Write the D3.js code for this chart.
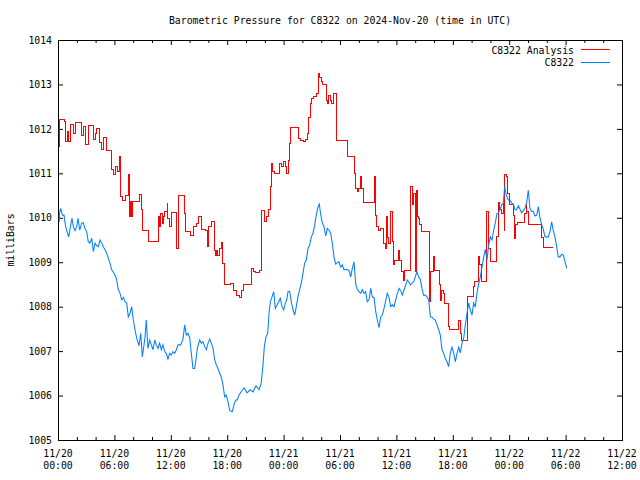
<!DOCTYPE html>
<html><head><meta charset="utf-8">
<script src="https://cdn.jsdelivr.net/npm/d3@7"></script>
<style>
body{margin:0;background:#fff}
svg text{font-family:"DejaVu Sans Mono","Liberation Mono",monospace;font-size:9.8px;fill:#000}
</style>
</head><body>
<svg id="chart" width="640" height="480"></svg>
<script>
// ---- data (hours after 2024-11-20 00:00 UTC, pressure in mb) ----
const analysisHours = [0.11,0.21,0.64,0.85,0.99,1.10,1.28,1.63,1.84,2.52,
2.69,2.95,3.22,3.76,3.94,4.12,4.39,4.65,4.82,5.18,
5.67,5.88,6.14,6.38,6.52,6.70,6.86,7.13,7.48,7.59,
7.71,7.82,7.93,8.72,8.90,9.04,9.61,10.67,10.78,10.93,
11.10,11.20,11.28,11.63,11.70,11.91,12.05,12.63,12.80,13.48,
13.59,14.12,14.39,14.76,14.93,15.24,15.71,15.88,15.99,16.31,
16.60,16.78,16.88,17.02,17.13,17.37,17.52,17.66,18.30,18.69,
19.04,19.29,19.47,19.76,20.56,20.82,21.06,21.41,21.70,21.95,
22.16,22.41,22.59,22.69,22.77,23.05,23.59,23.76,24.01,24.18,
24.26,24.47,24.61,24.71,25.61,25.78,26.14,26.28,26.49,26.67,
26.81,26.99,27.20,27.55,27.73,27.87,27.98,28.16,28.59,28.67,
28.76,28.94,29.12,29.29,29.65,30.78,31.49,31.60,31.84,31.95,
32.13,32.31,32.48,33.62,33.76,33.90,34.07,34.26,34.61,34.79,
34.97,35.07,35.21,35.39,35.61,35.67,35.85,36.20,36.38,36.56,
36.73,36.91,37.55,37.69,37.84,37.98,38.16,38.24,38.33,38.51,
38.69,39.50,39.65,39.93,40.03,40.56,40.69,40.82,40.96,41.17,
41.52,41.63,42.59,42.77,42.95,43.59,43.76,44.18,44.36,44.71,
44.89,45.07,45.61,45.78,45.96,46.67,46.84,47.02,47.20,47.37,
47.45,47.55,47.73,47.80,47.87,48.01,48.44,48.54,48.65,48.90,
49.61,49.79,49.89,50.03,51.46,51.63,52.69];
const analysisValues = [1011.60,1012.22,1012.16,1011.71,1011.94,1011.71,1012.11,1011.90,1012.14,1011.86,
1012.05,1011.66,1012.07,1011.77,1011.90,1012.01,1011.69,1011.54,1011.81,1011.52,
1011.08,1010.98,1011.15,1011.05,1011.38,1010.47,1010.40,1010.51,1010.98,1010.02,
1010.36,1010.02,1010.36,1010.53,1010.18,1009.72,1009.46,1010.02,1009.80,1010.10,
1009.88,1010.02,1010.14,1010.33,1009.99,1009.80,1010.11,1009.31,1010.50,1010.10,
1009.69,1009.61,1009.80,1009.88,1010.02,1009.74,1009.72,1009.35,1009.80,1009.91,
1009.27,1009.16,1009.27,1009.16,1009.31,1009.45,1008.98,1008.49,1008.52,1008.37,
1008.26,1008.21,1008.37,1008.49,1008.86,1008.79,1008.76,1008.82,1010.16,1009.91,
1010.02,1010.18,1010.70,1011.23,1011.05,1011.00,1011.23,1011.15,1011.26,1011.15,
1011.00,1011.30,1011.67,1012.04,1011.79,1011.75,1011.71,1011.77,1011.90,1012.25,
1012.58,1012.68,1012.72,1012.80,1013.25,1013.15,1013.06,1012.99,1012.65,1012.58,
1012.76,1012.65,1012.58,1012.80,1011.75,1011.38,1011.00,1010.66,1010.59,1010.66,
1010.93,1010.66,1010.34,1010.94,1010.06,1009.80,1009.72,1009.76,1009.43,1009.31,
1010.02,1009.55,1009.43,1010.14,1009.46,1008.94,1009.05,1009.27,1009.05,1008.79,
1008.60,1008.81,1010.70,1010.29,1010.55,1008.80,1010.62,1010.02,1009.99,1009.84,
1009.70,1008.12,1008.80,1009.12,1008.82,1008.49,1008.15,1008.37,1008.30,1008.07,
1007.55,1007.49,1007.70,1007.40,1007.23,1008.22,1008.24,1008.45,1008.56,1009.12,
1008.94,1008.56,1010.14,1009.31,1009.01,1009.57,1010.34,1010.18,1010.10,1010.33,
1009.72,1010.98,1010.93,1010.81,1010.55,1010.29,1010.06,1009.54,1009.84,1009.90,
1010.10,1010.29,1010.14,1009.84,1009.55,1009.33,1009.33];

const stationHours = [0.14,0.16,0.29,0.46,0.64,0.78,0.96,1.14,1.35,1.49,
1.63,1.81,1.99,2.13,2.31,2.52,2.69,2.87,3.05,3.22,
3.40,3.59,3.76,3.94,4.12,4.29,4.47,4.65,4.82,5.00,
5.18,5.35,5.53,5.71,5.96,6.20,6.41,6.60,6.78,6.95,
7.13,7.31,7.48,7.66,7.84,8.01,8.19,8.37,8.62,8.80,
8.97,9.15,9.26,9.39,9.57,9.76,9.93,10.11,10.29,10.46,
10.64,10.82,10.99,11.17,11.35,11.52,11.70,11.88,12.05,12.23,
12.41,12.59,12.77,13.05,13.30,13.48,13.65,13.83,14.01,14.18,
14.36,14.54,14.65,14.82,15.07,15.24,15.43,15.61,15.78,15.96,
16.14,16.31,16.49,16.67,16.84,17.02,17.20,17.37,17.55,17.73,
17.90,18.09,18.27,18.54,18.72,18.90,19.07,19.26,19.47,19.79,
20.11,20.43,20.74,21.06,21.38,21.60,21.81,21.95,22.13,22.31,
22.45,22.59,22.77,22.95,23.12,23.30,23.48,23.65,23.83,24.01,
24.18,24.33,24.47,24.65,24.82,25.00,25.18,25.35,25.53,25.71,
25.88,26.06,26.24,26.41,26.60,26.78,26.95,27.13,27.31,27.48,
27.66,27.80,27.90,28.12,28.30,28.48,28.65,28.83,29.01,29.18,
29.36,29.54,29.71,29.89,30.07,30.24,30.43,30.61,30.78,30.96,
31.14,31.31,31.49,31.67,31.84,32.02,32.20,32.37,32.55,32.73,
32.90,33.09,33.27,33.44,33.62,33.80,33.97,34.15,34.33,34.50,
34.68,34.86,35.03,35.21,35.39,35.56,35.74,35.93,36.10,36.28,
36.46,36.63,36.81,36.99,37.16,37.31,37.48,37.66,37.84,38.01,
38.19,38.37,38.54,38.72,38.90,39.07,39.26,39.44,39.61,39.79,
39.97,40.14,40.32,40.50,40.67,40.85,41.03,41.20,41.38,41.56,
41.73,41.91,42.10,42.27,42.45,42.63,42.80,42.98,43.16,43.33,
43.51,43.69,43.86,44.04,44.22,44.39,44.57,44.76,44.93,45.11,
45.29,45.46,45.64,45.82,45.99,46.17,46.35,46.52,46.70,46.84,
47.02,47.20,47.37,47.52,47.69,47.90,48.09,48.27,48.44,48.62,
48.80,48.97,49.15,49.33,49.50,49.68,49.86,50.03,50.21,50.39,
50.56,50.74,50.93,51.10,51.28,51.46,51.63,51.81,51.99,52.16,
52.34,52.52,52.69,52.87,53.05,53.22,53.40,53.59,53.76,53.94,
54.12];
const stationValues = [1009.91,1010.11,1010.21,1010.06,1010.06,1009.84,1009.69,1009.57,1009.84,1009.99,
1009.80,1009.71,1009.80,1009.99,1009.72,1009.88,1009.89,1009.76,1009.69,1009.46,
1009.43,1009.54,1009.24,1009.43,1009.37,1009.35,1009.50,1009.43,1009.35,1009.28,
1009.20,1009.09,1008.98,1008.83,1008.75,1008.64,1008.39,1008.30,1008.15,1008.21,
1008.11,1008.08,1007.77,1007.85,1008.00,1007.70,1007.48,1007.29,1007.12,1007.40,
1006.87,1007.14,1007.32,1007.70,1007.06,1007.25,1007.14,1007.03,1007.25,1007.14,
1007.06,1007.18,1007.03,1007.14,1006.99,1006.95,1006.82,1006.95,1006.91,1006.99,
1006.95,1007.03,1007.14,1007.14,1007.27,1007.59,1007.36,1007.40,1007.30,1006.96,
1006.61,1006.61,1006.76,1007.06,1007.25,1007.18,1007.21,1007.10,1007.03,1007.18,
1007.27,1007.18,1007.06,1006.80,1006.69,1006.61,1006.50,1006.42,1006.24,1005.97,
1006.01,1005.86,1005.66,1005.64,1005.79,1005.90,1005.90,1006.01,1006.08,1006.17,
1006.06,1006.13,1006.08,1006.22,1006.13,1006.26,1006.69,1007.10,1007.32,1007.40,
1007.85,1008.11,1008.22,1008.34,1007.96,1008.04,1008.11,1008.19,1008.00,1007.93,
1008.08,1008.15,1008.34,1008.34,1008.11,1007.93,1007.81,1008.00,1008.22,1008.39,
1008.53,1008.75,1008.98,1009.05,1009.31,1009.39,1009.57,1009.65,1009.84,1010.06,
1010.25,1010.31,1010.14,1009.88,1009.80,1009.59,1009.76,1009.72,1009.65,1009.43,
1009.12,1008.96,1008.99,1009.01,1008.89,1008.94,1008.83,1008.84,1008.83,1008.81,
1008.67,1008.86,1009.01,1008.51,1008.39,1008.34,1008.30,1008.38,1008.30,1008.34,
1008.11,1008.16,1008.41,1008.21,1008.21,1007.89,1007.70,1007.53,1007.77,1007.81,
1007.96,1008.13,1008.30,1008.21,1008.00,1008.04,1008.00,1008.15,1008.30,1008.41,
1008.36,1008.26,1008.38,1008.49,1008.60,1008.56,1008.49,1008.53,1008.56,1008.67,
1008.79,1008.66,1008.62,1008.41,1008.26,1008.26,1008.22,1008.15,1007.77,1007.76,
1007.72,1007.70,1007.59,1007.48,1007.36,1007.03,1006.95,1006.84,1006.76,1006.65,
1006.95,1007.09,1006.95,1006.76,1006.95,1007.09,1006.96,1007.18,1007.29,1007.59,
1007.85,1008.08,1007.93,1007.81,1008.08,1007.99,1008.30,1008.53,1008.67,1008.90,
1009.12,1009.29,1009.05,1009.39,1009.57,1009.50,1009.72,1009.88,1010.10,1010.11,
1010.18,1010.29,1010.33,1010.70,1010.51,1010.40,1010.40,1010.33,1010.31,1010.18,
1010.18,1010.27,1010.19,1010.11,1010.16,1010.21,1010.34,1010.62,1010.21,1010.14,
1010.14,1010.04,1010.06,1010.25,1009.99,1009.84,1009.74,1009.57,1009.57,1009.57,
1009.69,1009.91,1009.71,1009.57,1009.35,1009.12,1009.12,1009.18,1009.16,1009.01,
1008.86];

const yTickValues = [1005,1006,1007,1008,1009,1010,1011,1012,1013,1014];
const xTickHours = [0,6,12,18,24,30,36,42,48,54,60];
const xTickLabels = [["11/20","00:00"],["11/20","06:00"],["11/20","12:00"],["11/20","18:00"],
  ["11/21","00:00"],["11/21","06:00"],["11/21","12:00"],["11/21","18:00"],
  ["11/22","00:00"],["11/22","06:00"],["11/22","12:00"]];
const seriesNames = ["C8322 Analysis","C8322"];
const seriesColors = ["#ff0000","#0080ff"];
const chartTitle = "Barometric Pressure for C8322 on 2024-Nov-20 (time in UTC)";
const yAxisTitle = "milliBars";

// ---- layout ----
const svg = d3.select("#chart");
const L = 58, R = 622, T = 40, B = 440;
const x = d3.scaleLinear().domain([0,60]).range([L,R]);
const y = d3.scaleLinear().domain([1005,1014]).range([B,T]);
const minorHours = d3.range(0,61,2).filter(h => h % 6 !== 0);

function noDomain(g){ g.select(".domain").remove(); g.selectAll("line").attr("stroke","#000"); }

svg.append("g").attr("transform",`translate(0,${B})`)
  .call(d3.axisBottom(x).tickValues(xTickHours).tickSize(-5).tickFormat(""))
  .call(noDomain);
svg.append("g").attr("transform",`translate(0,${B})`)
  .call(d3.axisBottom(x).tickValues(minorHours).tickSize(-3).tickFormat(""))
  .call(noDomain);
svg.append("g").attr("transform",`translate(0,${T})`)
  .call(d3.axisTop(x).tickValues(xTickHours).tickSize(-5).tickFormat(""))
  .call(noDomain);
svg.append("g").attr("transform",`translate(0,${T})`)
  .call(d3.axisTop(x).tickValues(minorHours).tickSize(-3).tickFormat(""))
  .call(noDomain);
svg.append("g").attr("transform",`translate(${L},0)`)
  .call(d3.axisLeft(y).tickValues(yTickValues).tickSize(-5).tickPadding(6).tickFormat(d3.format("d")))
  .call(noDomain)
  .call(g => g.selectAll("text").attr("font-family",null).attr("font-size",null));
svg.append("g").attr("transform",`translate(${R},0)`)
  .call(d3.axisRight(y).tickValues(yTickValues).tickSize(-5).tickFormat(""))
  .call(noDomain);

const xl = svg.append("g");
xTickHours.forEach((h,i) => {
  const t = xl.append("text").attr("text-anchor","middle");
  t.append("tspan").attr("x", x(h)).attr("y", 457).text(xTickLabels[i][0]);
  t.append("tspan").attr("x", x(h)).attr("y", 469).text(xTickLabels[i][1]);
});

svg.append("rect").attr("x",L+0.5).attr("y",T+0.5).attr("width",R-L).attr("height",B-T)
  .attr("fill","none").attr("stroke","#000").attr("stroke-width",1);

const analysis = analysisHours.map((h,i) => [h, analysisValues[i]]);
const station = stationHours.map((h,i) => [h, stationValues[i]]);
svg.append("path").datum(analysis)
  .attr("d", d3.line().x(d => x(d[0])).y(d => y(d[1])).curve(d3.curveStepAfter))
  .attr("fill","none").attr("stroke",seriesColors[0]).attr("stroke-width",1)
  .attr("shape-rendering","crispEdges");
svg.append("path").datum(station)
  .attr("d", d3.line().x(d => x(d[0])).y(d => y(d[1])))
  .attr("fill","none").attr("stroke",seriesColors[1]).attr("stroke-width",1.05);

svg.append("text").attr("x", 340).attr("y", 23.5).attr("text-anchor","middle").text(chartTitle);
svg.append("text").attr("transform","translate(14,240) rotate(-90)").attr("text-anchor","middle").text(yAxisTitle);

const legY = [53.5, 66];
seriesNames.forEach((n,i) => {
  svg.append("text").attr("x",574).attr("y",legY[i]).attr("text-anchor","end").text(n);
  svg.append("line").attr("x1",581).attr("x2",610).attr("y1",legY[i]-4).attr("y2",legY[i]-4)
    .attr("stroke",seriesColors[i]).attr("stroke-width",1).attr("shape-rendering","crispEdges");
});
</script>
</body></html>
